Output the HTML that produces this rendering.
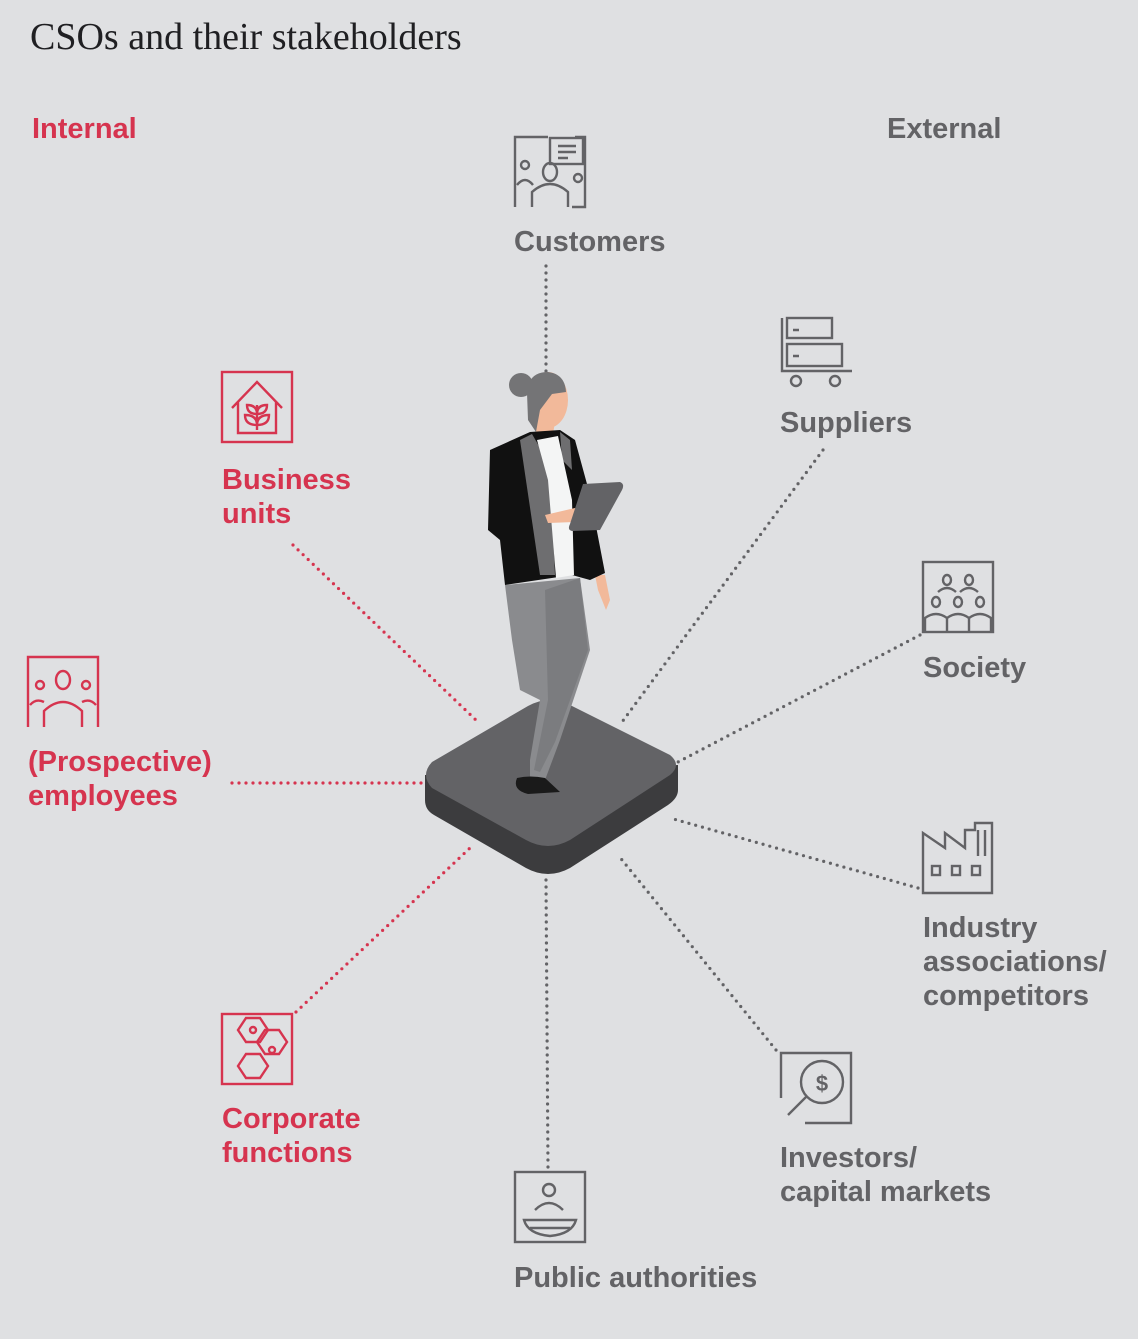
<!DOCTYPE html>
<html><head><meta charset="utf-8"><style>
html,body{margin:0;padding:0;background:#dfe0e2;}
svg{display:block}
.t{font-family:"Liberation Sans",Arial,sans-serif;font-weight:bold;font-size:29px;}
.g{fill:#636366}.r{fill:#d6344f}
</style></head><body>
<svg width="1138" height="1339" viewBox="0 0 1138 1339" xmlns="http://www.w3.org/2000/svg">
<rect width="1138" height="1339" fill="#dfe0e2"/>
<text x="30" y="49" font-family="'Liberation Serif',serif" font-size="38" fill="#1f1f22">CSOs and their stakeholders</text>
<text x="32" y="138" class="t r">Internal</text>
<text x="887" y="138" class="t g">External</text>

<g fill="none" stroke-width="3.2" stroke-linecap="round" stroke-dasharray="0 7">
<g stroke="#636366">
<line x1="546" y1="266" x2="546" y2="372"/>
<line x1="823" y1="450" x2="622" y2="722"/>
<line x1="920" y1="635" x2="678" y2="762"/>
<line x1="918" y1="888" x2="670" y2="818"/>
<line x1="776" y1="1050" x2="618" y2="855"/>
<line x1="546" y1="880" x2="548" y2="1168"/>
<line x1="546" y1="640" x2="546" y2="705"/>
</g>
<g stroke="#d6344f">
<line x1="296" y1="1012" x2="470" y2="848"/>
<line x1="232" y1="783" x2="425" y2="783"/>
<line x1="293" y1="545" x2="478" y2="722"/>
</g>
</g>

<!-- platform -->
<path d="M425 775 L425 800 Q425 810 434 815 L526 868 Q548 880 570 868 L668 805 Q678 798 678 790 L678 765 Z" fill="#3c3c3e"/>
<path d="M432 762 L528 706 Q550 694 572 706 L670 755 Q682 765 670 775 L570 840 Q548 852 526 840 L432 788 Q420 775 432 762 Z" fill="#636366"/>

<!-- figure -->
<path d="M505 585 L580 578 L590 650 L560 740 L545 780 L530 782 L530 760 L540 700 L520 690 L512 640 Z" fill="#8a8b8e"/>
<path d="M545 590 L580 578 L588 650 L555 742 L540 772 L534 770 L548 700 Z" fill="#7b7c7f"/>
<path d="M517 778 Q530 775 545 778 L560 792 L528 794 Q512 790 517 778 Z" fill="#1a1a1a"/>
<path d="M595 575 L605 575 L610 600 L606 610 L598 590 Z" fill="#f2b99a"/>
<ellipse cx="548" cy="400" rx="20" ry="28" fill="#f2b99a"/>
<path d="M535 420 L555 422 L552 440 L537 440 Z" fill="#f2b99a"/>
<circle cx="521" cy="385" r="12" fill="#747476"/>
<path d="M527 393 Q528 372 548 372 Q565 374 566 392 L552 394 L540 410 L536 432 L528 420 Z" fill="#747476"/>
<path d="M490 450 L530 432 L560 430 L575 440 L590 495 L605 573 L590 580 L572 575 L505 585 L500 540 L488 530 Z" fill="#111"/>
<path d="M520 440 L532 434 L550 465 L555 575 L540 575 Z" fill="#6e6e70"/>
<path d="M560 432 L570 440 L572 470 L562 460 Z" fill="#6e6e70"/>
<path d="M537 440 L558 436 L572 500 L574 575 L556 578 L548 480 Z" fill="#f4f5f5"/>
<path d="M545 515 L575 508 L595 510 L575 522 L548 523 Z" fill="#f2b99a"/>
<path d="M583 484 L620 482 Q625 484 622 490 L600 530 L572 531 Q567 530 570 524 Z" fill="#636366"/>

<g fill="none" stroke-width="2.4">
<g stroke="#636366">
<path d="M515 207 V137 H548 M575 137 H585 V207 H572"/>
<rect x="550" y="138" width="33" height="26"/>
<path d="M558 146h18M558 152h18M558 158h10"/>
<circle cx="525" cy="165" r="4"/><path d="M517 185 q8-10 16 0"/>
<ellipse cx="550" cy="172" rx="7" ry="9"/><path d="M532 207 v-15 q18-16 36 0 v15"/>
<circle cx="578" cy="178" r="4"/>
</g>
<g stroke="#636366">
<path d="M782 318 V371 H852"/>
<rect x="787" y="318" width="45" height="20"/><rect x="787" y="344" width="55" height="22"/>
<path d="M793 330h6M793 356h6"/>
<circle cx="796" cy="381" r="5"/><circle cx="835" cy="381" r="5"/>
</g>
<g stroke="#636366">
<rect x="923" y="562" width="70" height="70"/>
<ellipse cx="947" cy="580" rx="4" ry="5"/><ellipse cx="969" cy="580" rx="4" ry="5"/>
<ellipse cx="936" cy="602" rx="4" ry="5"/><ellipse cx="958" cy="602" rx="4" ry="5"/><ellipse cx="980" cy="602" rx="4" ry="5"/>
<path d="M925 632 v-14 q11-8 22 0 v14 M947 618 q11-8 22 0 v14 M969 618 q11-8 22 0 v14"/>
<path d="M938 592 q9-8 18 0 M960 592 q9-8 18 0"/>
</g>
<g stroke="#636366">
<path d="M923 893 V833 L945 848 V833 L965 848 V830 H975 V823 H992 V893 Z"/>
<path d="M978 830 V856 M985 830 V856"/>
<rect x="932" y="866" width="8" height="9"/><rect x="952" y="866" width="8" height="9"/><rect x="972" y="866" width="8" height="9"/>
</g>
<g stroke="#636366">
<path d="M781 1098 V1053 H851 V1123 H805"/>
<circle cx="822" cy="1082" r="21"/>
<path d="M806 1097 L788 1115"/>
</g>
<g stroke="#636366">
<rect x="515" y="1172" width="70" height="70"/>
<circle cx="549" cy="1190" r="6"/>
<path d="M535 1210 q14-14 28 0"/>
<path d="M524 1220 h52 q-4 14 -26 16 q-22-2 -26-16 Z"/>
<path d="M530 1228h40"/>
</g>
<g stroke="#d6344f">
<rect x="222" y="372" width="70" height="70"/>
<path d="M232 408 L257 382 L282 408 M238 402 V433 H276 V402"/>
<path d="M257 430 V405 M257 425 q-12 0-12-10 q12 0 12 10 M257 425 q12 0 12-10 q-12 0-12 10 M257 414 q-10 0-10-9 q10 0 10 9 M257 414 q10 0 10-9 q-10 0-10 9"/>
</g>
<g stroke="#d6344f">
<path d="M28 727 V657 H98 V727"/>
<ellipse cx="63" cy="680" rx="7" ry="9"/>
<circle cx="40" cy="685" r="4"/><circle cx="86" cy="685" r="4"/>
<path d="M44 727 v-16 q19-18 38 0 v16 M30 705 q6-7 14-3 M96 705 q-6-7 -14-3"/>
</g>
<g stroke="#d6344f">
<rect x="222" y="1014" width="70" height="70"/>
<path d="M238 1030 l8-12 h14 l8 12 l-8 12 h-14 Z"/>
<path d="M257 1042 l8-12 h14 l8 12 l-8 12 h-14 Z"/>
<path d="M238 1066 l8-12 h14 l8 12 l-8 12 h-14 Z"/>
<circle cx="253" cy="1030" r="3"/><circle cx="272" cy="1050" r="3"/>
</g>
</g>
<text x="822" y="1091" text-anchor="middle" font-family="Liberation Sans,sans-serif" font-weight="bold" font-size="22" fill="#636366">$</text>

<text x="514" y="251" class="t g">Customers</text>
<text x="780" y="432" class="t g">Suppliers</text>
<text x="923" y="677" class="t g">Society</text>
<text class="t g"><tspan x="923" y="937">Industry</tspan><tspan x="923" y="971">associations/</tspan><tspan x="923" y="1005">competitors</tspan></text>
<text class="t g"><tspan x="780" y="1167">Investors/</tspan><tspan x="780" y="1201">capital markets</tspan></text>
<text x="514" y="1287" class="t g">Public authorities</text>
<text class="t r"><tspan x="222" y="489">Business</tspan><tspan x="222" y="523">units</tspan></text>
<text class="t r"><tspan x="28" y="771">(Prospective)</tspan><tspan x="28" y="805">employees</tspan></text>
<text class="t r"><tspan x="222" y="1128">Corporate</tspan><tspan x="222" y="1162">functions</tspan></text>
</svg>
</body></html>
